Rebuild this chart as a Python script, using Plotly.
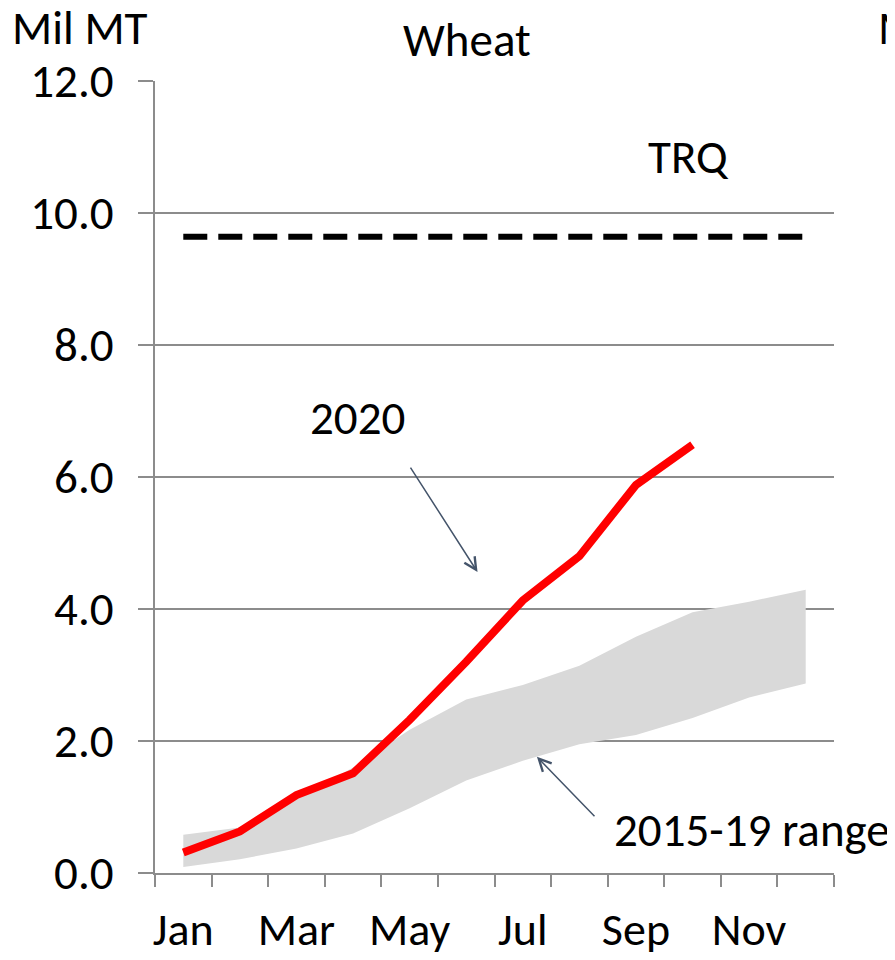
import plotly.graph_objects as go

months = ["Jan", "Feb", "Mar", "Apr", "May", "Jun", "Jul", "Aug", "Sep", "Oct", "Nov", "Dec"]
tick_labels = ["Jan", "", "Mar", "", "May", "", "Jul", "", "Sep", "", "Nov", ""]
wheat_2020 = [0.31, 0.63, 1.18, 1.51, 2.32, 3.20, 4.13, 4.80, 5.88, 6.49]
range_low = [0.09, 0.21, 0.37, 0.60, 0.98, 1.40, 1.70, 1.95, 2.09, 2.35, 2.66, 2.87]
range_high = [0.58, 0.69, 1.12, 1.60, 2.17, 2.63, 2.85, 3.14, 3.58, 3.95, 4.11, 4.29]
trq = [9.64] * 12

FONT = "Carlito, Lato, 'Open Sans', sans-serif"
FS = 47
GRID = "#8c8c8c"

fig = go.Figure()
fig.add_trace(go.Scatter(x=months, y=range_low, mode="lines", line=dict(width=0, color="#d9d9d9"),
                         showlegend=False, hoverinfo="skip"))
fig.add_trace(go.Scatter(x=months, y=range_high, mode="lines", line=dict(width=0, color="#d9d9d9"),
                         fill="tonexty", fillcolor="#d9d9d9", showlegend=False, hoverinfo="skip"))
fig.add_trace(go.Scatter(x=months, y=trq, mode="lines", line=dict(color="black", width=6, dash="24px,11px"),
                         showlegend=False))
fig.add_trace(go.Scatter(x=months[:len(wheat_2020)], y=wheat_2020, mode="lines",
                         line=dict(color="#ff0000", width=8), showlegend=False))

fig.update_layout(
    width=887, height=952, autosize=False,
    margin=dict(l=147, r=61, t=73, b=87),
    plot_bgcolor="white", paper_bgcolor="white",
    font=dict(family=FONT, size=FS, color="black"),
    showlegend=False,
)
fig.update_xaxes(
    type="category", categoryorder="array", categoryarray=months,
    tickmode="array", tickvals=months, ticktext=tick_labels, tickangle=0,
    tickson="boundaries", ticks="outside", ticklen=12, tickwidth=2, tickcolor=GRID,
    showline=True, linecolor=GRID, linewidth=2, showgrid=False,
    ticklabelstandoff=15, tickfont=dict(size=46), automargin=False,
    range=[-0.5, 11.5],
)
fig.update_yaxes(
    range=[0, 12], dtick=2, tick0=0, tickformat=".1f",
    ticks="outside", ticklen=15, tickwidth=2, tickcolor=GRID,
    showline=True, linecolor=GRID, linewidth=2,
    showgrid=True, gridcolor=GRID, gridwidth=2, zeroline=False,
    ticklabelstandoff=15, tickfont=dict(size=FS), automargin=False,
)

ann_font = dict(family=FONT, size=FS, color="black")
arrow_col = "#44546a"
fig.add_annotation(x=8.92, y=10.85, text="TRQ", showarrow=False, font=ann_font)
fig.add_annotation(x=3.07, y=6.9, text="2020", showarrow=False, font=ann_font)
fig.add_annotation(x=5.2, y=4.56, text="", showarrow=True, ax=-68, ay=-106,
                   arrowhead=5, arrowsize=1.6, arrowwidth=1.5, arrowcolor=arrow_col)
fig.add_annotation(x=7.57, y=0.65, text="2015-19 range", showarrow=False, xanchor="left", font=ann_font)
fig.add_annotation(x=6.25, y=1.76, text="", showarrow=True, ax=59, ay=61,
                   arrowhead=5, arrowsize=1.6, arrowwidth=1.5, arrowcolor=arrow_col)
fig.add_annotation(xref="paper", yref="paper", x=-0.2135, y=1.067, xanchor="left", yanchor="middle",
                   text="Mil MT", showarrow=False, font=ann_font)
fig.add_annotation(xref="paper", yref="paper", x=0.459, y=1.052, xanchor="center", yanchor="middle",
                   text="Wheat", showarrow=False, font=ann_font)
fig.add_annotation(xref="paper", yref="paper", x=1.062, y=1.067, xanchor="left", yanchor="middle",
                   text="Mil MT", showarrow=False, font=ann_font)

fig.write_html("out.html")
